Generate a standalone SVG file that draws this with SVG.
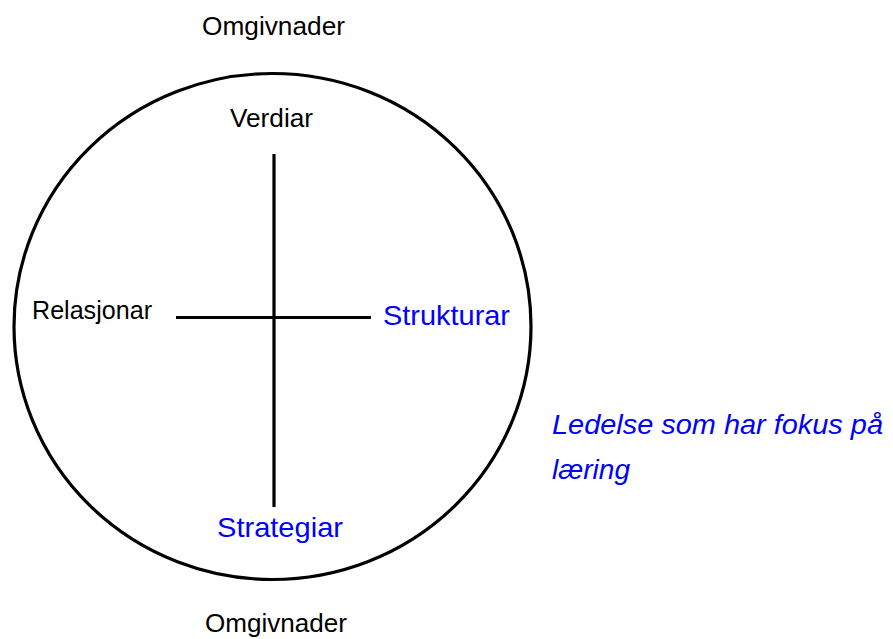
<svg xmlns="http://www.w3.org/2000/svg" width="893" height="639" viewBox="0 0 893 639">
<style>
.t{font-family:"Liberation Sans",Arial,sans-serif;font-size:25px;fill:#000}
.b{font-family:"Liberation Sans",Arial,sans-serif;font-size:28.5px;fill:#0000FF}
.i{font-style:italic}
.ln{stroke:#000;stroke-width:3.2;fill:none}
</style>
<rect width="893" height="639" fill="#fff"/>
<g id="circle"><ellipse class="ln" cx="272.5" cy="326.5" rx="258.5" ry="253"/></g>
<g id="connectors">
<line class="ln" x1="274" y1="154" x2="274" y2="507"/>
<line class="ln" x1="176" y1="317.5" x2="371" y2="317.5"/>
</g>
<g id="omgivnader-top"><text class="t" x="202" y="35" textLength="143" lengthAdjust="spacingAndGlyphs">Omgivnader</text></g>
<g id="verdiar"><text class="t" x="230" y="127" textLength="83" lengthAdjust="spacingAndGlyphs">Verdiar</text></g>
<g id="relasjonar"><text class="t" x="32" y="319" textLength="120" lengthAdjust="spacingAndGlyphs">Relasjonar</text></g>
<g id="strukturar"><text class="b" x="383" y="325" textLength="127" lengthAdjust="spacingAndGlyphs">Strukturar</text></g>
<g id="strategiar"><text class="b" x="217" y="537" textLength="126" lengthAdjust="spacingAndGlyphs">Strategiar</text></g>
<g id="omgivnader-bottom"><text class="t" x="205" y="632" textLength="142" lengthAdjust="spacingAndGlyphs">Omgivnader</text></g>
<g id="ledelse">
<text class="b i" x="552" y="434" textLength="331" lengthAdjust="spacingAndGlyphs">Ledelse som har fokus på</text>
<text class="b i" x="552" y="479" textLength="78" lengthAdjust="spacingAndGlyphs">læring</text>
</g>
</svg>
